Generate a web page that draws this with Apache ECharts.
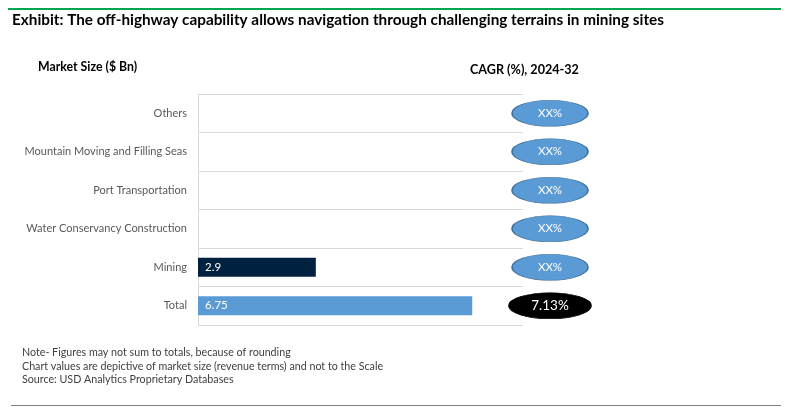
<!DOCTYPE html>
<html>
<head>
<meta charset="utf-8">
<script src="https://cdn.jsdelivr.net/npm/echarts@6/dist/echarts.min.js"></script>
<style>
  html, body { margin: 0; padding: 0; background: #fff; }
  #chart { width: 791px; height: 420px; }
</style>
</head>
<body>
<div id="chart"></div>
<script>
// categories, bottom to top
var categories = ['Total', 'Mining', 'Water Conservancy Construction', 'Port Transportation', 'Mountain Moving and Filling Seas', 'Others'];
var marketSize = [6.75, 2.9, null, null, null, null];   // $ Bn
var cagrLabels = ['7.13%', 'XX%', 'XX%', 'XX%', 'XX%', 'XX%'];
var barColors = ['#5b9bd5', '#002240', '#5b9bd5', '#5b9bd5', '#5b9bd5', '#5b9bd5'];
var notes = [
  'Note- Figures may not sum to totals, because of rounding',
  'Chart values are depictive of market size (revenue terms) and not to the Scale',
  'Source: USD Analytics Proprietary Databases'
];

var font = 'Lato, "Open Sans", sans-serif';
var myChart = echarts.init(document.getElementById('chart'));

myChart.setOption({
  animation: false,
  textStyle: { fontFamily: font },
  title: [
    { text: 'Exhibit: The off-highway capability allows navigation through challenging terrains in mining sites',
      left: 12, top: 13, padding: 0, textStyle: { fontSize: 15.3, fontWeight: 'bold', color: '#000', fontFamily: font } },
    { text: 'Market Size ($ Bn)', left: 38, top: 61, padding: 0, textStyle: { fontSize: 12.3, fontWeight: 'bold', color: '#000', fontFamily: font } },
    { text: 'CAGR (%), 2024-32', left: 470, top: 63, padding: 0, textStyle: { fontSize: 12.6, fontWeight: 'bold', color: '#000', fontFamily: font } }
  ],
  grid: [
    { left: 198, top: 94, width: 325, height: 231 },
    { left: 505, top: 94, width: 90, height: 231 }
  ],
  xAxis: [
    { gridIndex: 0, type: 'value', min: 0, max: 8, show: false },
    { gridIndex: 1, type: 'value', min: 0, max: 1, show: false }
  ],
  yAxis: [
    { gridIndex: 0, type: 'category', data: categories,
      axisLine: { show: true, lineStyle: { color: '#d9d9d9' } },
      axisTick: { show: false },
      splitLine: { show: true, lineStyle: { color: '#d9d9d9' } },
      axisLabel: { color: '#595959', fontSize: 11, margin: 11, fontFamily: font } },
    { gridIndex: 1, type: 'category', data: categories, show: false }
  ],
  series: [
    {
      type: 'bar', xAxisIndex: 0, yAxisIndex: 0, barWidth: 19,
      data: marketSize.map(function (v, i) {
        return { value: v, itemStyle: { color: barColors[i] } };
      }),
      label: { show: true, position: 'insideLeft', offset: [2, 0], color: '#fff', fontSize: 11.5, fontFamily: font }
    },
    {
      type: 'scatter', xAxisIndex: 1, yAxisIndex: 1, symbol: 'circle',
      data: categories.map(function (c, i) {
        var total = i === 0;
        return {
          value: [0.5, c],
          symbolSize: total ? [82, 26] : [76, 26],
          itemStyle: { color: total ? '#000' : '#5b9bd5', borderColor: total ? '#000' : '#41719c', borderWidth: 1, opacity: 1 },
          label: { fontSize: total ? 13.5 : 11.5 }
        };
      }),
      label: { show: true, position: 'inside', color: '#fff', fontFamily: font,
        formatter: function (p) { return cagrLabels[p.dataIndex]; } }
    }
  ],
  graphic: [
    { type: 'line', shape: { x1: 8, y1: 9, x2: 781, y2: 9 }, style: { stroke: '#00a651', lineWidth: 2 } },
    { type: 'line', shape: { x1: 11, y1: 405.5, x2: 781, y2: 405.5 }, style: { stroke: '#808080', lineWidth: 1 } },
    { type: 'text', left: 22, top: 346, style: { text: notes.join('\n'), fill: '#404040', font: '10.7px ' + font, lineHeight: 13.5 } }
  ]
});
</script>
</body>
</html>
